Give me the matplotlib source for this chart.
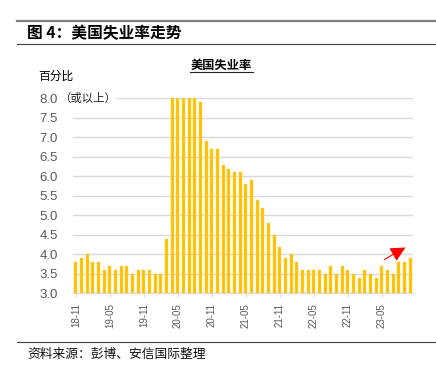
import matplotlib
matplotlib.use('Agg')
import matplotlib.pyplot as plt
from matplotlib.lines import Line2D
from matplotlib.transforms import offset_copy

plt.rcParams['font.family'] = ['Noto Sans CJK SC', 'DejaVu Sans']

# 月份标签（2018-11 至 2023-10）
months = []
for y in range(18, 24):
    for m in range(1, 13):
        if (y == 18 and m < 11) or (y == 23 and m > 10):
            continue
        months.append(f'{y:02d}-{m:02d}')

# 失业率（%），8.0 表示 8.0 或以上
rate = [3.8, 3.9, 4.0, 3.8, 3.8, 3.6, 3.7, 3.6, 3.7, 3.7, 3.5, 3.6,
        3.6, 3.6, 3.5, 3.5, 4.4, 8.0, 8.0, 8.0, 8.0, 8.0, 7.9, 6.9,
        6.7, 6.7, 6.3, 6.2, 6.1, 6.1, 5.8, 5.9, 5.4, 5.2, 4.8, 4.5,
        4.2, 3.9, 4.0, 3.8, 3.6, 3.6, 3.6, 3.6, 3.5, 3.7, 3.5, 3.7,
        3.6, 3.5, 3.4, 3.6, 3.5, 3.4, 3.7, 3.6, 3.5, 3.8, 3.8, 3.9]

yticks = [3.0, 3.5, 4.0, 4.5, 5.0, 5.5, 6.0, 6.5, 7.0, 7.5, 8.0]
tick_every = 6

W, H = 436, 372
fig = plt.figure(figsize=(W / 100, H / 100), dpi=100)

# 页眉 / 页脚的横线
fig.add_artist(Line2D([17 / W, 1], [1 - 20.7 / H] * 2, color='#7f7f7f', lw=1.6))
fig.add_artist(Line2D([17 / W, 1], [1 - 44.3 / H] * 2, color='#404040', lw=0.8))
fig.add_artist(Line2D([17 / W, 1], [1 - 341.7 / H] * 2, color='#404040', lw=0.8))

fig.text(27 / W, 1 - 33 / H, '图 4：美国失业率走势', fontsize=11.3, fontweight='bold',
         va='center', ha='left')
fig.text(27 / W, 1 - 354 / H, '资料来源：彭博、安信国际整理', fontsize=9.2,
         va='center', ha='left', color='#111111')

# 图内标题，带下划线
fig.text(221.5 / W, 1 - 65 / H, '美国失业率', fontsize=8.8, fontweight='bold',
         va='center', ha='center')
fig.add_artist(Line2D([190 / W, 253 / W], [1 - 71.5 / H] * 2, color='#222222', lw=0.8))
fig.text(38 / W, 1 - 76 / H, '百分比', fontsize=8.5, va='center', ha='left')

ax = fig.add_axes([73 / W, 1 - 293.3 / H, 340 / W, 195 / H])
x = list(range(len(months)))
ax.bar(x, rate, width=0.5, color='#FFC000', edgecolor='#FFD54A', linewidth=0.3, zorder=3)

ax.set_xlim(-0.5, len(months) - 0.5)
ax.set_ylim(3.0, 8.0)
ax.set_yticks(yticks)
ax.set_yticklabels([f'{v:.1f}' for v in yticks], family='Liberation Sans',
                   fontsize=9.5, color='#595959')
ax.tick_params(axis='y', length=0, pad=11)

xt = x[::tick_every]
ax.set_xticks(xt)
ax.set_xticklabels([months[i] for i in xt], rotation=90, family='Liberation Sans',
                   fontsize=7, color='#595959')
ax.tick_params(axis='x', length=3, color='#d9d9d9', pad=4)

ax.grid(axis='y', color='#d9d9d9', lw=1, zorder=0)
for s in ['top', 'right', 'left']:
    ax.spines[s].set_visible(False)
ax.spines['bottom'].set_color('#d9d9d9')

# “8.0” 后面接 “（或以上）”
tr = offset_copy(ax.get_yaxis_transform(), fig=fig, x=-10, y=0, units='points')
ax.text(0, 8.0, '（或以上）', transform=tr, fontsize=8.2,
        va='center', ha='left', color='#222222',
        bbox=dict(facecolor='white', edgecolor='none', pad=0), zorder=5)

ax.annotate('', xy=(58.6, 4.21), xytext=(54, 3.83),
            arrowprops=dict(arrowstyle='-|>,head_length=0.9,head_width=0.45',
                            color='#ff0000', lw=0.8), zorder=6)

fig.savefig('out.png', dpi=100)
